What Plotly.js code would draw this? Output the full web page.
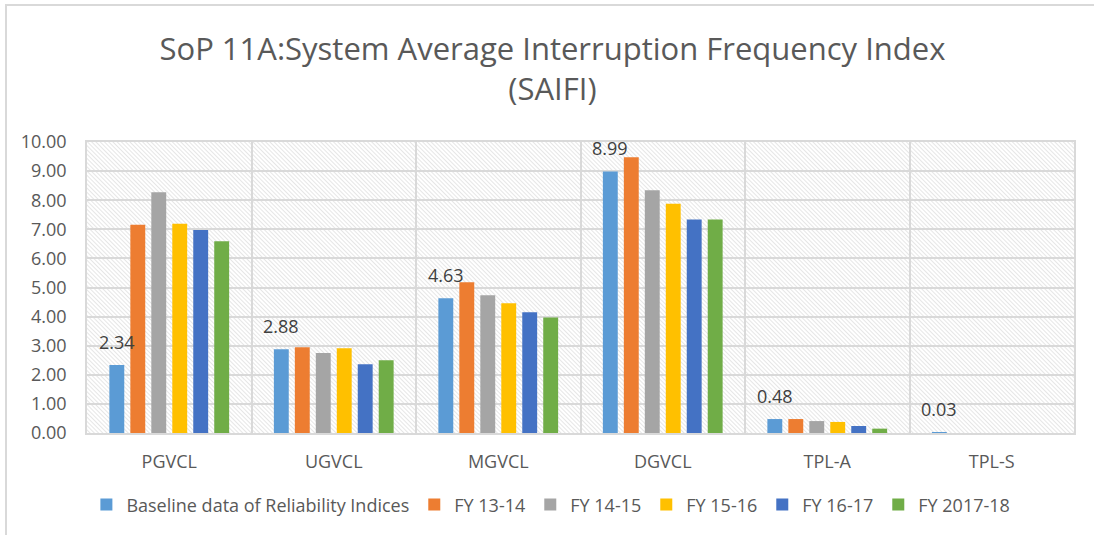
<!DOCTYPE html>
<html>
<head>
<meta charset="utf-8">
<script src="https://cdn.plot.ly/plotly-3.0.1.min.js"></script>
<style>
  html, body { margin: 0; padding: 0; background: #fff; }
  #wrap { position: relative; width: 1094px; height: 535px; }
  #chart { width: 1094px; height: 535px; }
  #frame { position: absolute; left: 5px; top: 4px; width: 1200px; height: 600px;
           border-top: 2px solid #d9d9d9; border-left: 2px solid #d9d9d9; pointer-events: none; }
</style>
</head>
<body>
<div id="wrap">
  <div id="chart"></div>
  <div id="frame"></div>
</div>
<script>
const categories = ["PGVCL", "UGVCL", "MGVCL", "DGVCL", "TPL-A", "TPL-S"];
const seriesNames = ["Baseline data of Reliability Indices", "FY 13-14", "FY 14-15", "FY 15-16", "FY 16-17", "FY 2017-18"];
const baseline = [2.34, 2.88, 4.63, 8.99, 0.48, 0.03];
const fy1314   = [7.16, 2.95, 5.18, 9.48, 0.48, 0];
const fy1415   = [8.27, 2.75, 4.73, 8.34, 0.41, 0];
const fy1516   = [7.19, 2.91, 4.46, 7.88, 0.38, 0];
const fy1617   = [6.98, 2.36, 4.15, 7.34, 0.24, 0];
const fy1718   = [6.59, 2.50, 3.97, 7.34, 0.15, 0];
const yTickVals = [0,1,2,3,4,5,6,7,8,9,10];

const seriesValues = [baseline, fy1314, fy1415, fy1516, fy1617, fy1718];
const colors = ["#5B9BD5", "#ED7D31", "#A5A5A5", "#FFC000", "#4472C4", "#70AD47"];

const BARGAP = 0.235, GROUPGAP = 0.29;
const FONT = "Open Sans, sans-serif";
const TXT = "#595959";

const traces = seriesValues.map((vals, k) => ({
  type: "bar",
  name: seriesNames[k],
  x: categories,
  y: vals,
  marker: { color: colors[k], line: { width: 0 } },
  hoverinfo: "x+y+name"
}));

// data labels for the first series, placed above its bars
const n = seriesValues.length;
const slot = (1 - BARGAP) / n;
const off0 = -0.5 * (1 - BARGAP) + slot * 0.5;
const annotations = baseline.map((v, i) => ({
  x: i + off0, y: v, xref: "x", yref: "y",
  text: v.toFixed(2), showarrow: false,
  yanchor: "bottom", yshift: 9,
  font: { family: FONT, size: 18, color: "#404040" }
}));

const layout = {
  width: 1094, height: 535,
  margin: { l: 87, r: 20, t: 142, b: 102, pad: 0 },
  paper_bgcolor: "rgba(0,0,0,0)",
  plot_bgcolor: "#ffffff",
  font: { family: FONT, size: 17, color: TXT },
  title: {
    text: "SoP 11A:System Average Interruption Frequency Index<br>(SAIFI)",
    font: { family: FONT, size: 31, color: TXT },
    x: 0.505, xanchor: "center",
    y: 0.888, yanchor: "middle", yref: "container"
  },
  barmode: "group",
  bargap: BARGAP,
  bargroupgap: GROUPGAP,
  xaxis: {
    type: "category",
    tickson: "boundaries",
    showgrid: true, gridcolor: "#d9d9d9", gridwidth: 1.5,
    showline: true, linecolor: "#d9d9d9", linewidth: 1.5, mirror: true,
    ticks: "", ticklen: 0, ticklabelstandoff: 12,
    tickfont: { family: FONT, size: 18, color: TXT },
    fixedrange: true
  },
  yaxis: {
    range: [0, 10],
    tickvals: yTickVals,
    tickformat: ".2f",
    showgrid: true, gridcolor: "#d9d9d9", gridwidth: 1.5,
    showline: true, linecolor: "#d9d9d9", linewidth: 1.5, mirror: true,
    zeroline: false,
    ticks: "", ticklabelstandoff: 15,
    tickfont: { family: FONT, size: 18, color: TXT },
    fixedrange: true
  },
  legend: {
    orientation: "h",
    x: 0.47, xanchor: "center",
    y: -0.247, yanchor: "middle",
    font: { family: FONT, size: 18, color: TXT },
    itemwidth: 30,
    traceorder: "normal"
  },
  annotations: annotations
};

Plotly.newPlot("chart", traces, layout, { displayModeBar: false }).then(gd => {
  const svgNS = "http://www.w3.org/2000/svg";
  const svg = gd.querySelector("svg.main-svg");
  let defs = svg.querySelector("defs");
  if (!defs) { defs = document.createElementNS(svgNS, "defs"); svg.insertBefore(defs, svg.firstChild); }
  const pat = document.createElementNS(svgNS, "pattern");
  pat.setAttribute("id", "hatchbg");
  pat.setAttribute("patternUnits", "userSpaceOnUse");
  pat.setAttribute("width", "3");
  pat.setAttribute("height", "3");
  pat.setAttribute("patternTransform", "rotate(-45)");
  const bgr = document.createElementNS(svgNS, "rect");
  bgr.setAttribute("width", "3"); bgr.setAttribute("height", "3"); bgr.setAttribute("fill", "#ffffff");
  const ln = document.createElementNS(svgNS, "rect");
  ln.setAttribute("x", "0"); ln.setAttribute("y", "0");
  ln.setAttribute("width", "1"); ln.setAttribute("height", "3"); ln.setAttribute("fill", "#e6e6e6");
  pat.appendChild(bgr); pat.appendChild(ln);
  defs.appendChild(pat);
  gd.querySelectorAll(".bglayer rect.bg").forEach(r => { r.style.fill = "url(#hatchbg)"; });
});
</script>
</body>
</html>
